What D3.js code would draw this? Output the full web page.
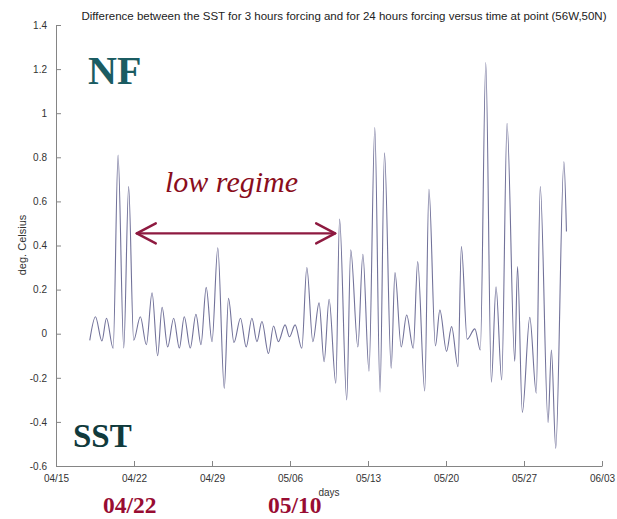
<!DOCTYPE html>
<html>
<head>
<meta charset="utf-8">
<script src="https://d3js.org/d3.v7.min.js"></script>
<style>
  html, body { margin: 0; padding: 0; background: #fff; }
  svg { display: block; }
</style>
</head>
<body>
<svg id="chart" width="617" height="519"></svg>
<script>
// Days after 04/15 of each turning point of the SST difference curve
const days = [
  3.03, 3.54, 4.12, 4.53, 5.13, 5.57, 6.08, 6.52, 6.97, 7.57,
  8.11, 8.62, 9.12, 9.52, 10.02, 10.56, 11.07, 11.51, 12.05, 12.56,
  13.01, 13.48, 14.00, 14.52, 15.10, 15.48, 15.97, 16.56, 17.07, 17.58,
  18.03, 18.48, 19.07, 19.52, 19.96, 20.56, 20.95, 21.46, 22.06, 22.51,
  23.05, 23.61, 24.06, 24.51, 25.11, 25.45, 26.09, 26.45, 27.09, 27.54,
  28.09, 28.61, 29.08, 29.48, 30.08, 30.42, 30.98, 31.47, 32.06, 32.46,
  33.09, 33.47, 34.05, 34.45, 35.05, 35.50, 36.08, 36.38, 36.90, 37.59,
  38.08, 38.57, 39.07, 39.49, 40.00, 40.48, 41.17, 41.42, 41.85, 42.52,
  43.10, 43.46, 44.16, 44.46, 44.85, 45.58, 45.81
];

// SST(3 h forcing) - SST(24 h forcing), deg. Celsius
const sstDiff = [
  -0.03, 0.077, -0.033, 0.07, -0.066, 0.81, -0.065, 0.667, -0.03, 0.077,
  -0.05, 0.186, -0.10, 0.12, -0.06, 0.07, -0.065, 0.077, -0.065, 0.088,
  -0.05, 0.21, -0.036, 0.39, -0.248, 0.16, -0.04, 0.07, -0.06, 0.07,
  -0.036, 0.055, -0.09, 0.035, -0.036, 0.04, -0.014, 0.04, -0.066, 0.30,
  -0.036, 0.14, -0.127, 0.156, -0.225, 0.52, -0.30, 0.38, -0.06, 0.36,
  -0.17, 0.935, -0.265, 0.82, -0.157, 0.277, -0.06, 0.085, -0.066, 0.327,
  -0.26, 0.655, -0.055, 0.107, -0.08, 0.032, -0.15, 0.395, -0.025, 0.022,
  -0.074, 1.23, -0.22, 0.213, -0.21, 0.954, -0.125, 0.304, -0.357, 0.074,
  -0.27, 0.667, -0.403, -0.074, -0.52, 0.78, 0.463
];

const xTickLabels = ["04/15", "04/22", "04/29", "05/06", "05/13", "05/20", "05/27", "06/03"];
const yTickValues = [-0.6, -0.4, -0.2, 0, 0.2, 0.4, 0.6, 0.8, 1, 1.2, 1.4];
const yTickLabels = ["-0.6", "-0.4", "-0.2", "0", "0.2", "0.4", "0.6", "0.8", "1", "1.2", "1.4"];

// Period marked as the low regime and its end dates
const regimeStartDay = 7.25;
const regimeEndDay = 25.05;
const regimeLevel = 0.455;
const regimeDates = ["04/22", "05/10"];

const parseMD = d3.utcParse("%m/%d");
const start = parseMD(xTickLabels[0]);
const dayMs = 864e5;
const toDate = d => new Date(start.getTime() + d * dayMs);

const svg = d3.select("#chart");
const plotLeft = 56, plotRight = 602, plotTop = 25, plotBottom = 466;

const x = d3.scaleUtc()
  .domain([start, parseMD(xTickLabels[xTickLabels.length - 1])])
  .range([plotLeft, plotRight]);
const y = d3.scaleLinear().domain([-0.6, 1.4]).range([plotBottom, plotTop]);

const axisColor = "#858585";
const tickFont = "'Liberation Sans', Arial, sans-serif";

// x axis: ticks point into the plot
const gx = svg.append("g").attr("transform", `translate(0,${plotBottom})`)
  .call(d3.axisBottom(x)
    .tickValues(xTickLabels.map(parseMD))
    .tickFormat(d3.utcFormat("%m/%d"))
    .tickSizeInner(-5).tickSizeOuter(0).tickPadding(9));
gx.select(".domain").attr("stroke", axisColor);
gx.selectAll(".tick line").attr("stroke", axisColor);
gx.selectAll(".tick text").attr("fill", "#333").attr("font-size", 10)
  .attr("font-family", tickFont);

// y axis
const gy = svg.append("g").attr("transform", `translate(${plotLeft},0)`)
  .call(d3.axisLeft(y)
    .tickValues(yTickValues)
    .tickFormat((d, i) => yTickLabels[i])
    .tickSizeInner(-5).tickSizeOuter(0).tickPadding(9));
gy.select(".domain").attr("stroke", axisColor);
gy.selectAll(".tick line").attr("stroke", axisColor);
gy.selectAll(".tick text").attr("fill", "#333").attr("font-size", 10)
  .attr("font-family", tickFont);

// curve
const line = d3.line()
  .x((d, i) => x(toDate(days[i])))
  .y(d => y(d))
  .curve(d3.curveMonotoneX);

svg.append("path")
  .datum(sstDiff)
  .attr("fill", "none")
  .attr("stroke", "#72729a")
  .attr("stroke-width", 1.1)
  .attr("d", line);

// title and axis labels
svg.append("text")
  .attr("x", 344).attr("y", 20)
  .attr("text-anchor", "middle")
  .attr("font-family", tickFont).attr("font-size", 11.5)
  .attr("fill", "#222")
  .text("Difference between the SST for 3 hours forcing and for 24 hours forcing versus time at point (56W,50N)");

svg.append("text")
  .attr("transform", "translate(26,245) rotate(-90)")
  .attr("text-anchor", "middle")
  .attr("font-family", tickFont).attr("font-size", 11)
  .attr("fill", "#333")
  .text("deg. Celsius");

svg.append("text")
  .attr("x", (plotLeft + plotRight) / 2).attr("y", 496)
  .attr("text-anchor", "middle")
  .attr("font-family", tickFont).attr("font-size", 10)
  .attr("fill", "#333")
  .text("days");

// annotations
const serif = "'Liberation Serif', 'Times New Roman', serif";

svg.append("text")
  .attr("x", 88).attr("y", 84)
  .attr("font-family", serif).attr("font-weight", "bold").attr("font-size", 40)
  .attr("fill", "#1b5c62")
  .text("NF");

svg.append("text")
  .attr("x", 73).attr("y", 447)
  .attr("font-family", serif).attr("font-weight", "bold").attr("font-size", 33)
  .attr("fill", "#103a3c")
  .text("SST");

svg.append("text")
  .attr("x", 165).attr("y", 192)
  .attr("font-family", serif).attr("font-style", "italic").attr("font-size", 30)
  .attr("fill", "#8a0d1c")
  .text("low regime");

const arrowColor = "#8e1a40";
const ax0 = x(toDate(regimeStartDay)), ax1 = x(toDate(regimeEndDay)), ay = y(regimeLevel);
const arrow = svg.append("g")
  .attr("stroke", arrowColor).attr("stroke-width", 2.4)
  .attr("fill", "none").attr("stroke-linecap", "round").attr("stroke-linejoin", "round");
arrow.append("line").attr("x1", ax0).attr("y1", ay).attr("x2", ax1).attr("y2", ay);
arrow.append("path").attr("d", `M${ax0 + 19},${ay - 10}L${ax0},${ay}L${ax0 + 19},${ay + 10}`);
arrow.append("path").attr("d", `M${ax1 - 19},${ay - 10}L${ax1},${ay}L${ax1 - 19},${ay + 10}`);

svg.selectAll("text.regime-date")
  .data(regimeDates)
  .join("text")
  .attr("class", "regime-date")
  .attr("x", (d, i) => i === 0 ? 103 : 268)
  .attr("y", 513)
  .attr("font-family", serif).attr("font-weight", "bold").attr("font-size", 23.5)
  .attr("fill", "#980c32")
  .text(d => d);
</script>
</body>
</html>
